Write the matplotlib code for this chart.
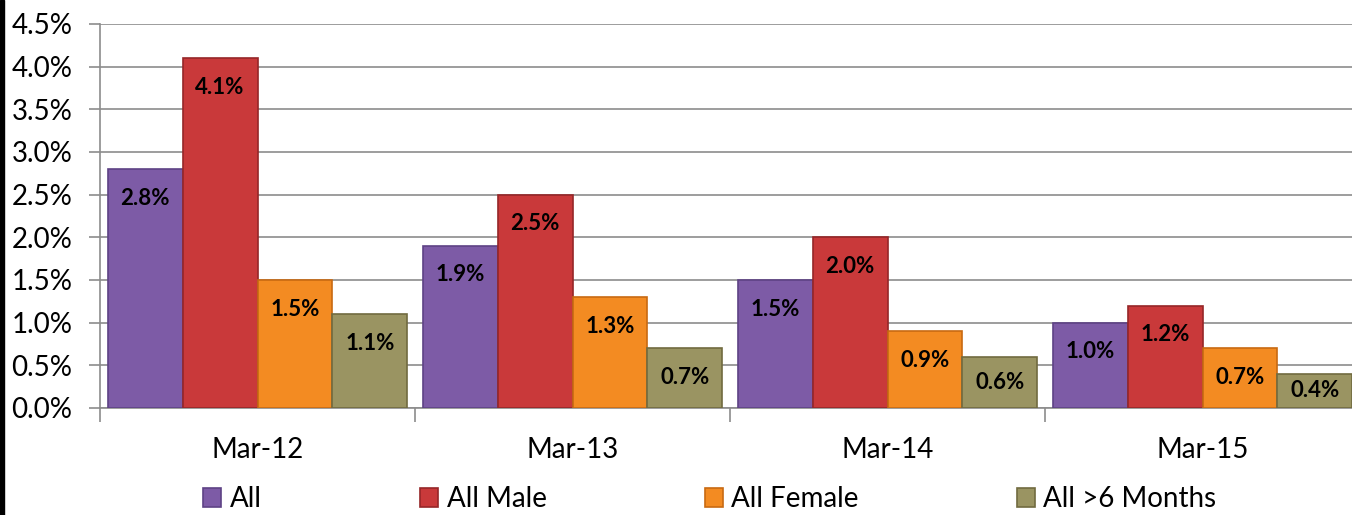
import numpy as np
import matplotlib.pyplot as plt
from matplotlib.patches import Rectangle

plt.rcParams['font.family'] = ['Lato', 'DejaVu Sans']

categories = ['Mar-12', 'Mar-13', 'Mar-14', 'Mar-15']
series = ['All', 'All Male', 'All Female', 'All >6 Months']
all_vals = [2.8, 1.9, 1.5, 1.0]
male_vals = [4.1, 2.5, 2.0, 1.2]
female_vals = [1.5, 1.3, 0.9, 0.7]
over6_vals = [1.1, 0.7, 0.6, 0.4]
values = [all_vals, male_vals, female_vals, over6_vals]

colors = ['#7D5BA6', '#C9393A', '#F38B22', '#9A9462']
edges = ['#5E4285', '#962628', '#C86A12', '#716B40']

W, H = 1352, 515
fig = plt.figure(figsize=(W / 100, H / 100), dpi=100)
ax = fig.add_axes([100 / W, 1 - 408 / H, 1260 / W, (408 - 24) / H])

w = 0.238
x = np.arange(len(categories)) + 0.5
for j in range(len(series)):
    pos = x + (j - 1.5) * w
    ax.bar(pos, values[j], width=w, color=colors[j], edgecolor=edges[j],
           linewidth=1.2, label=series[j], zorder=3)
    for px, v in zip(pos, values[j]):
        ly = max(v - 0.34, v / 2)
        ax.text(px, ly, f'{v:.1f}%', ha='center', va='center',
                fontsize=16, fontweight='bold', color='black', zorder=4)

ax.set_xlim(0, 4)
ax.set_ylim(0, 4.5)
yt = np.arange(0, 4.51, 0.5)
ax.set_yticks(yt)
ax.set_yticklabels([f'{t:.1f}%' for t in yt])
ax.yaxis.grid(True, color='#8C8C8C', linewidth=1.2, zorder=0)
ax.set_xticks([0, 1, 2, 3, 4])
ax.set_xticklabels([])
ax.set_xticks(x, minor=True)
ax.set_xticklabels(categories, minor=True)
ax.tick_params(axis='x', which='major', length=10, color='#8C8C8C', width=1.2)
ax.tick_params(axis='x', which='minor', length=0, pad=21, labelsize=20)
ax.tick_params(axis='y', length=8, color='#8C8C8C', width=1.2, pad=12, labelsize=20)
for s in ['top', 'right']:
    ax.spines[s].set_visible(False)
for s in ['left', 'bottom']:
    ax.spines[s].set_color('#8C8C8C')
    ax.spines[s].set_linewidth(1.2)

fig.legend(loc='center', bbox_to_anchor=(710 / W, 1 - 499 / H), ncol=4,
           frameon=False, fontsize=20, handlelength=0.65, handleheight=0.65,
           handletextpad=0.3, columnspacing=5.7)

fig.patches.append(Rectangle((0, 0), 4 / W, 1, transform=fig.transFigure,
                             color='black', zorder=10))

fig.savefig('out.png', dpi=100)
